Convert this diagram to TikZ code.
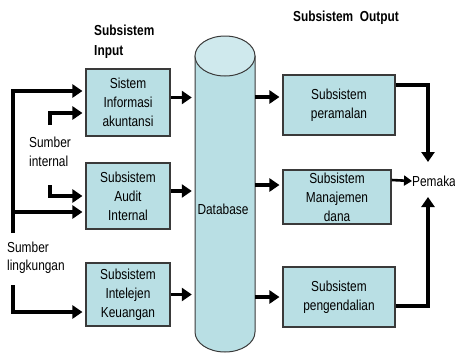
\documentclass[tikz,border=0pt]{standalone}
\usepackage{fontspec}
\setmainfont{Liberation Sans}[FakeStretch=0.82]
\usetikzlibrary{arrows.meta}
\definecolor{boxfill}{HTML}{B9DFE4}
\definecolor{topfill}{HTML}{CFE9ED}
\definecolor{edge}{HTML}{3A3A3A}
\begin{document}
\begin{tikzpicture}[x=1pt,y=-1pt,
  every node/.style={font=\fontsize{14.5}{19}\selectfont, inner sep=0pt},
  sbox/.style={draw=edge, line width=1.1pt, fill=boxfill, align=center},
  arr/.style={line width=3.6pt, line join=miter, -{Triangle[length=10pt,width=13pt]}},
  arrs/.style={line width=2.6pt, -{Triangle[length=8pt,width=10pt]}},
  title/.style={font=\fontsize{14.5}{20}\selectfont\bfseries, align=left},
  lbl/.style={align=left, anchor=west}]
\useasboundingbox (0,0) rectangle (455,354);

% cylinder (database)
\draw[draw=edge, line width=1pt, fill=boxfill]
  (195,56) -- (195,332) arc[start angle=180, end angle=360, x radius=30pt, y radius=20pt] -- (255,56) -- cycle;
\draw[draw=edge, line width=1pt, fill=topfill] (225,56) ellipse[x radius=30pt, y radius=20pt];
\node[minimum width=60pt, minimum height=316pt] (cyl) at (225,194) {};
\node (db) at (223,209) {Database};

% titles
\node[title, anchor=west] (tin) at (94,42) {Subsistem\\Input};
\node[title] (tout) at (346,18) {Subsistem\ \ Output};

% input boxes
\node[sbox, minimum width=84pt, minimum height=67pt] (b1) at (128,102.5) {Sistem\\Informasi\\akuntansi};
\node[sbox, minimum width=84pt, minimum height=66pt] (b2) at (128,196) {Subsistem\\Audit\\Internal};
\node[sbox, minimum width=84pt, minimum height=63pt] (b3) at (128,294.5) {Subsistem\\Intelejen\\Keuangan};

% output boxes
\node[sbox, minimum width=112pt, minimum height=60pt] (b4) at (339,105) {Subsistem\\peramalan};
\node[sbox, minimum width=108pt, minimum height=54pt] (b5) at (337,197) {Subsistem\\Manajemen\\dana};
\node[sbox, minimum width=112pt, minimum height=60pt] (b6) at (339,297) {Subsistem\\pengendalian};

% side labels
\node[lbl] (si) at (29,151.5) {Sumber\\internal};
\node[lbl, font=\fontsize{14.5}{17.5}\selectfont] (sl) at (7,257.5) {Sumber\\lingkungan};
\node[anchor=west] (pm) at (412,181) {Pemaka};

% input boxes -> database
\draw[arr, shorten >=3pt] ([yshift=5pt]b1.east) -- ([yshift=5pt]b1.east -| cyl.west);
\draw[arr, shorten >=3pt] ([yshift=5pt]b2.east) -- ([yshift=5pt]b2.east -| cyl.west);
\draw[arr, shorten >=3pt] (b3.east) -- (b3.east -| cyl.west);

% database -> output boxes
\draw[arr, shorten >=3pt] ([yshift=8pt]b4.west -| cyl.east) -- ([yshift=8pt]b4.west);
\draw[arr, shorten >=3pt] ([yshift=12pt]b5.west -| cyl.east) -- ([yshift=12pt]b5.west);
\draw[arr, shorten >=3pt] (b6.west -| cyl.east) -- (b6.west);

% sumber lingkungan
\coordinate (lt) at (13,91);
\coordinate (lb) at (13,233);
\coordinate (lm) at (13,212);
\coordinate (lc) at (13,285);
\coordinate (ld) at (13,312);
\draw[arr, shorten >=3pt] (lb) -- (lt) -- (lt -| b1.west);
\draw[arr, shorten >=3pt] (lm) -- (lm -| b2.west);
\draw[arr, shorten >=3pt] (lc) -- (ld) -- (ld -| b3.west);

% sumber internal
\coordinate (i1) at (50,125);
\coordinate (i1t) at (50,113);
\coordinate (i2) at (50,185);
\coordinate (i2b) at (50,196);
\draw[arr, shorten >=3pt] (i1) -- (i1t) -- (i1t -| b1.west);
\draw[arr, shorten >=3pt] (i2) -- (i2b) -- (i2b -| b2.west);

% outputs -> pemakai
\coordinate (r1) at (428,85);
\coordinate (r2) at (428,306);
\draw[arr] ([yshift=20pt]b4.east) -- (r1) -- (r1 |- 0,162);
\draw[arr] ([yshift=-9pt]b6.east) -- (r2) -- (r2 |- 0,197);
\draw[arrs] ([yshift=17pt]b5.east) -- (pm.west);
\end{tikzpicture}
\end{document}
